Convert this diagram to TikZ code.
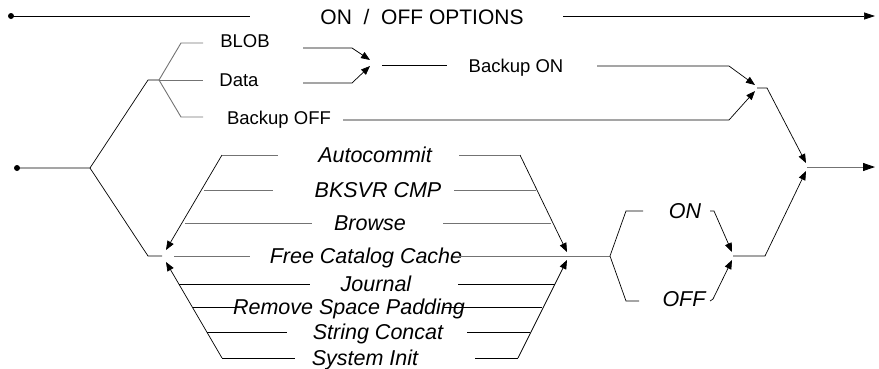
\documentclass[tikz,border=0pt]{standalone}
\usepackage{fontspec}
\setmainfont{Liberation Sans}
\usetikzlibrary{arrows.meta}
\tikzset{
  rail/.style={draw=black, line width=0.7pt},
  dimrail/.style={draw=black!55, line width=0.9pt},
  merge/.style={rail, -{Triangle[length=9pt,width=7pt]}},
  kw/.style={anchor=base, inner sep=0pt, font=\fontsize{18.5}{20}\selectfont},
  opt/.style={anchor=base, inner sep=0pt, font=\fontsize{21.5}{24}\selectfont\itshape},
  dot/.style={circle, fill=black, inner sep=0pt, minimum size=6pt},
}

\begin{document}
\begin{tikzpicture}[x=1pt, y=-1pt]
\useasboundingbox (0,0) rectangle (879,368);
% top rail
\node[dot] (topdot) at (11,16) {};
\node[kw, font=\fontsize{21}{24}\selectfont] (title) at (422,24) {ON\ \ /\ \ OFF OPTIONS};
\coordinate (titleL) at (250,16);
\coordinate (titleR) at (563,16);
\coordinate (titleEnd) at (875,16);
\draw[rail] (topdot.center) -- (titleL);
\draw[rail, -{Triangle[length=11pt,width=7pt]}] (titleR) -- (titleEnd);

% main entry
\node[dot] (start) at (17,168) {};
\coordinate (split) at (90,168);
\coordinate (upper) at (148,80);
\coordinate (bfork) at (159,80);
\coordinate (lower) at (148,256);
\coordinate (loopin) at (162,256);
\draw[rail] (start.center) -- (split) -- (upper) -- (bfork);
\draw[rail] (split) -- (lower) -- (loopin);

% backup choices
\node[kw] (blob) at (245,47) {BLOB};
\node[kw] (data) at (239,86) {Data};
\node[kw] (bkoff) at (279,124) {Backup OFF};
\node[kw] (bkon) at (516,72) {Backup ON};
\draw[dimrail] (bfork) -- (181,43) -- (203,43);
\draw[dimrail] (bfork) -- (203,80);
\draw[dimrail] (bfork) -- (181,117) -- (203,117);
\draw[merge] (303,48) -- (352,48) -- (370,60);
\draw[merge] (303,83) -- (352,83) -- (370,66);
\draw[rail] (382,65) -- (447,65);
\coordinate (ojoin) at (757,88);
\coordinate (exit) at (807,167);
\draw[merge] (597,66) -- (729,66) -- (755,85);
\draw[merge] (343,120) -- (729,120) -- (755,91);
\draw[merge] (ojoin) -- (767,88) -- (806,163);
\draw[dimrail, -{Triangle[length=12pt,width=8pt,color=black]}] (exit) -- (875,167);

% option list
\coordinate (lt) at (222,155);
\coordinate (lb) at (222,358);
\coordinate (rt) at (520,155);
\coordinate (rb) at (518,358);
\draw[merge] (lt) -- (166,250);
\draw[merge] (lb) -- (166,262);
\draw[merge] (rt) -- (567,252);
\draw[merge] (rb) -- (567,260);
\foreach \y/\x/\a/\b/\c/\d/\col/\t in {
  155/375/222/278/459/520/black!55/Autocommit,
  190/378/204/273/454/536/black!55/BKSVR CMP,
  223/370/185/312/443/551/black!55/Browse,
  256/366/174/250/455/567/black!55/Free Catalog Cache,
  284/376/179/310/458/555/black/Journal,
  307/349/193/240/443/542/black/Remove Space Padding,
  332/378/207/287/467/530/black/String Concat,
  358/365/222/295/475/518/black/System Init}
{
  \node[opt] (item\y) at (\x,\y+7) {\t};
  \draw[rail, draw=\col] (\a,\y) -- (\b,\y);
  \draw[rail, draw=\col] (\c,\y) -- (\d,\y);
}

% on / off
\coordinate (ljoin) at (567,256);
\coordinate (ofork) at (610,256);
\coordinate (sjoin) at (733,256);
\node[opt] (on) at (685,218) {ON};
\node[opt] (off) at (684,306) {OFF};
\draw[dimrail] (ljoin) -- (ofork);
\draw[rail] (ofork) -- (626,211) -- (643,211);
\draw[rail] (ofork) -- (626,301) -- (639,301);
\draw[merge] (710,211) -- (714,211) -- (732,252);
\draw[merge] (710,301) -- (713,299) -- (732,260);
\draw[merge] (sjoin) -- (765,256) -- (806,171);
\end{tikzpicture}
\end{document}
